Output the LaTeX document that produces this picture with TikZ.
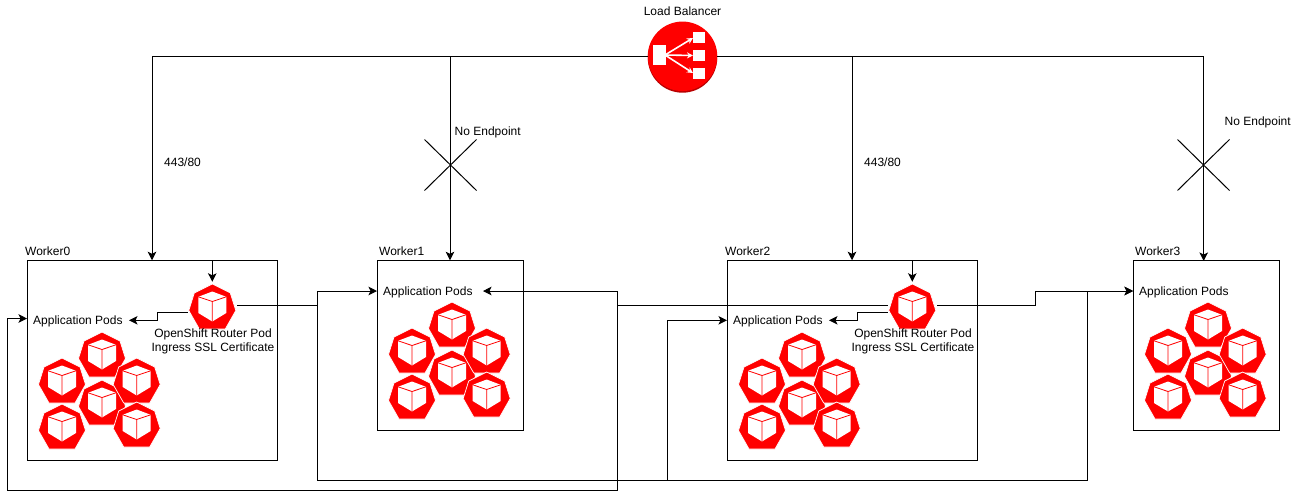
\documentclass[tikz,border=0pt]{standalone}
\usepackage{fontspec}
\setmainfont{Liberation Sans}
\usetikzlibrary{arrows.meta,shapes.misc}
\definecolor{podred}{HTML}{FF0000}
\definecolor{lbdark}{HTML}{B80000}
\tikzset{
  wire/.style={draw=black,line width=1pt},
  arr/.style={wire,-{Stealth[length=8.5pt,width=8.5pt,inset=2pt]}},
  box/.style={draw=black,line width=1pt,rectangle,inner sep=0pt},
  lbl/.style={inner sep=0pt,font=\fontsize{12pt}{14pt}\selectfont,text=black},
  app/.style={inner xsep=6pt,inner ysep=2pt,font=\fontsize{12pt}{14pt}\selectfont,text=black},
  nocon/.style={draw=black,line width=1pt,cross out,inner sep=0pt,minimum width=51pt,minimum height=50pt},
  router/.style={inner sep=0pt,minimum width=49pt,minimum height=47pt},
  pod/.pic={
    \fill[podred,draw=white,line width=.7pt,line join=round]
      (0,0)--(18,9)--(23.5,26.5)--(13,45)--(-13,45)--(-23.5,26.5)--(-18,9)--cycle;
    \fill[white] (0,7.5)--(14,12.8)--(14,29)--(0,37.5)--(-14,29)--(-14,12.8)--cycle;
    \draw[podred,line width=.8pt] (-14,12.8)--(0,17.5)--(14,12.8) (0,17.5)--(0,37.5);
  },
  podset/.pic={
    \pic at (102,332) {pod};
    \pic at (62,358) {pod};
    \pic at (62,404) {pod};
    \pic at (102,380) {pod};
    \pic at (136.7,358) {pod};
    \pic at (136.7,402) {pod};
  }
}
\begin{document}
\begin{tikzpicture}[x=1pt,y=-1pt]
\useasboundingbox (0,0) rectangle (1298,499);
% worker boxes
\node[box,minimum width=250pt,minimum height=199.5pt] (w0) at (152,360.5) {};
\node[box,minimum width=146pt,minimum height=170pt] (w1) at (450,345.8) {};
\node[box,minimum width=250pt,minimum height=199.5pt] (w2) at (852,360.5) {};
\node[box,minimum width=146pt,minimum height=170pt] (w3) at (1206,345.8) {};
% pods
\pic at (0,0) {podset};
\pic at (350,-30) {podset};
\pic at (700,0) {podset};
\pic at (1106,-30) {podset};
% router pods
\node[router] (r0) at (212.3,305.5) {};
\node[router] (r2) at (912.3,305.5) {};
\pic at (212.3,284) {pod};
\pic at (912.3,284) {pod};
% load balancer
\fill[lbdark] (682.5,58) circle[radius=34.7];
\node[circle,fill=podred,inner sep=0pt,minimum size=69.5pt] (lb) at (682.5,56.3) {};
\fill[white] (653,45) rectangle (666,65);
\fill[white] (693,32) rectangle (705,43);
\fill[white] (693,50) rectangle (705,61);
\fill[white] (693,68) rectangle (705,79);
\draw[white,line width=1.6pt,-{Stealth[length=6pt,width=6pt]}] (665,55)--(693,38);
\draw[white,line width=1.6pt,-{Stealth[length=6pt,width=6pt]}] (665,55)--(693,55.5);
\draw[white,line width=1.6pt,-{Stealth[length=6pt,width=6pt]}] (665,55)--(693,73);
% labels
\node[lbl] (tlb) at (682.5,11) {Load Balancer};
\node[lbl,anchor=west] (t0) at (25,251) {Worker0};
\node[lbl,anchor=west] (t1) at (379,251) {Worker1};
\node[lbl,anchor=west] (t2) at (725,251) {Worker2};
\node[lbl,anchor=west] (t3) at (1135,251) {Worker3};
\node[lbl,anchor=west] (p0) at (164,162) {443/80};
\node[lbl,anchor=west] (p2) at (864,162) {443/80};
\node[lbl,anchor=west] (e1) at (454.5,132) {No Endpoint};
\node[lbl,anchor=west] (e3) at (1224.5,122) {No Endpoint};
\node[app,anchor=west] (a0) at (27,321.5) {Application Pods};
\node[app,anchor=west] (a1) at (377,292) {Application Pods};
\node[app,anchor=west] (a2) at (727,321.5) {Application Pods};
\node[app,anchor=west] (a3) at (1133,292) {Application Pods};
\node[lbl,align=center] (c0) at (213,341.8) {OpenShift Router Pod\\Ingress SSL Certificate};
\node[lbl,align=center] (c2) at (913,341.8) {OpenShift Router Pod\\Ingress SSL Certificate};
% no-endpoint crosses
\node[nocon] (x1) at (450.5,165) {};
\node[nocon] (x3) at (1203.5,165) {};
% routing coordinates
\coordinate (w3in) at (1203.7,261);
\coordinate (jt) at (317,291);
\coordinate (jb) at (317,480);
\coordinate (jc) at (1087,480);
\coordinate (jd) at (1087,291);
\coordinate (jw2) at (667.5,480);
\coordinate (kt) at (617.3,291);
\coordinate (kb) at (617.3,490);
\coordinate (kl) at (7.3,490);
\coordinate (kin) at (7.3,318.5);
\coordinate (w0in) at (27,318.5);
\coordinate (rs) at (1035,291);
\coordinate (a0tip) at (129,320.3);
\coordinate (a1tip) at (483,291);
\coordinate (a1in) at (377,291);
\coordinate (a2in) at (727,320.3);
\coordinate (a2tip) at (829,320.3);
\coordinate (a3in) at (1133,291);
% load balancer feeds
\draw[arr] (lb.west) -| (w0.north);
\draw[arr] (lb.west -| w1.north) -- (w1.north);
\draw[arr] (lb.east) -| (w3in);
\draw[arr] (lb.east -| w2.north) -- (w2.north);
% into router pods
\draw[arr] (r0.north |- w0.north) -- (r0.north);
\draw[arr] (r2.north |- w2.north) -- (r2.north);
% router 0
\draw[arr] ([yshift=-6.5pt]r0.west) -| (157.5,320.3) -- (a0tip);
\draw[arr] (r0.east) -| (jt) -- (a1in);
\draw[arr] (jt) -- (jb) -- (jc) -- (jd) -- (a3in);
% router 2
\draw[arr] ([yshift=-6.5pt]r2.west) -| (857.5,320.3) -- (a2tip);
\draw[arr] (r2.east) -| (rs) -- (a3in);
\draw[arr] (r2.west) -| (kt) -- (a1tip);
\draw[arr] (kt) -- (kb) -- (kl) -- (kin) -- (w0in);
\draw[arr] (jw2) |- (a2in);
\end{tikzpicture}
\end{document}
